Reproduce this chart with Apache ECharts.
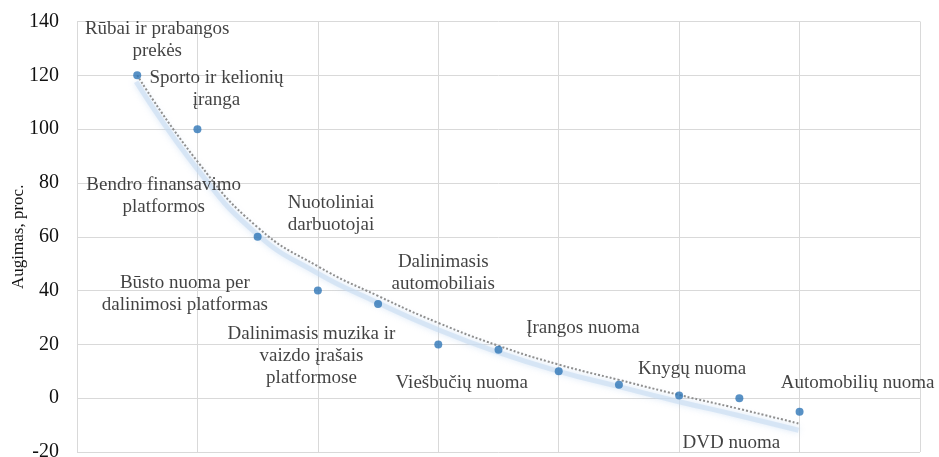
<!DOCTYPE html>
<html>
<head>
<meta charset="utf-8">
<script src="https://cdn.jsdelivr.net/npm/echarts@6/dist/echarts.min.js"></script>
<style>html,body{margin:0;padding:0;background:#fff;}#c{width:939px;height:457px;}</style>
</head>
<body>
<div id="c"></div>
<script>
// Categories (labels of points)
var categories = [
  'Rūbai ir prabangos\nprekės',
  'Sporto ir kelionių\nįranga',
  'Bendro finansavimo\nplatformos',
  'Būsto nuoma per\ndalinimosi platformas',
  'Nuotoliniai\ndarbuotojai',
  'Dalinimasis\nautomobiliais',
  'Dalinimasis muzika ir\nvaizdo įrašais\nplatformose',
  'Viešbučių nuoma',
  'Įrangos nuoma',
  'Knygų nuoma',
  'DVD nuoma',
  'Automobilių nuoma'
];
// x positions of points
var xValues = [1, 2, 3, 4, 5, 6, 7, 8, 9, 10, 11, 12];
// growth, %
var growth = [120, 100, 60, 40, 35, 20, 18, 10, 5, 1, 0, -5];
// trendline values at each x
var trend = [120, 88, 63.5, 49, 38, 28, 19.5, 12.5, 6.8, 1.2, -4, -9.5];
// y-axis ticks
var yMin = -20, yMax = 140, yStep = 20;
var xMin = 0, xMax = 14, xStep = 2;
var yAxisTitle = 'Augimas, proc.';

// label placement offsets (layout only)
var labelOffsets = [
  [20, -35], [19, -40], [-94, -41], [-133, 3], [-47, -90], [5, -71],
  [-187, 6], [-97, 12], [-36, -57], [13, -26], [-8, 45], [58, -29]
];

var font = 'Liberation Serif';
var pts = xValues.map(function (x, i) {
  return {
    value: [x, growth[i]],
    name: categories[i],
    label: { offset: labelOffsets[i] }
  };
});
var trendData = xValues.map(function (x, i) { return [x, trend[i]]; });

var chart = echarts.init(document.getElementById('c'));
chart.setOption({
  animation: false,
  backgroundColor: '#ffffff',
  grid: [
    { left: 77, right: 19, top: 21.5, bottom: 5, containLabel: false, outerBoundsMode: 'none' },
    { left: 76, right: 20, top: 28, bottom: -1.5, containLabel: false, outerBoundsMode: 'none' }
  ],
  xAxis: [
    {
      type: 'value', gridIndex: 0, min: xMin, max: xMax, interval: xStep,
      axisLabel: { show: false }, axisTick: { show: false }, axisLine: { show: false },
      splitLine: { show: true, lineStyle: { color: '#d9d9d9', width: 1 } }
    },
    { type: 'value', gridIndex: 1, min: xMin, max: xMax, show: false, splitLine: { show: false } }
  ],
  yAxis: [
    {
      type: 'value', gridIndex: 0, min: yMin, max: yMax, interval: yStep,
      name: yAxisTitle, nameLocation: 'middle', nameGap: 50, nameRotate: 90,
      nameMoveOverlap: false,
      nameTextStyle: { fontFamily: font, fontSize: 17, color: '#111111' },
      axisLabel: { fontFamily: font, fontSize: 20, color: '#111111', margin: 18 },
      axisTick: { show: false }, axisLine: { show: false },
      splitLine: { show: true, lineStyle: { color: '#d9d9d9', width: 1 } }
    },
    { type: 'value', gridIndex: 1, min: yMin, max: yMax, show: false, splitLine: { show: false } }
  ],
  series: [
    {
      type: 'line', xAxisIndex: 1, yAxisIndex: 1, data: trendData, smooth: true,
      symbol: 'none', z: 1, silent: true,
      lineStyle: {
        color: 'rgba(200,220,242,0.6)', width: 5,
        shadowBlur: 6, shadowColor: 'rgba(170,200,235,0.7)'
      }
    },
    {
      type: 'line', data: trendData, smooth: true, symbol: 'none', z: 2, silent: true,
      lineStyle: { color: '#8f8f8f', width: 2, type: [2, 2] }
    },
    {
      type: 'scatter', data: pts, symbol: 'circle', symbolSize: 8, z: 3,
      itemStyle: { color: '#2E75B6' },
      label: {
        show: true, position: 'inside', align: 'center', verticalAlign: 'middle',
        formatter: function (p) { return p.name; },
        fontFamily: font, fontSize: 19, lineHeight: 22, color: '#111111'
      }
    }
  ]
});
</script>
</body>
</html>
